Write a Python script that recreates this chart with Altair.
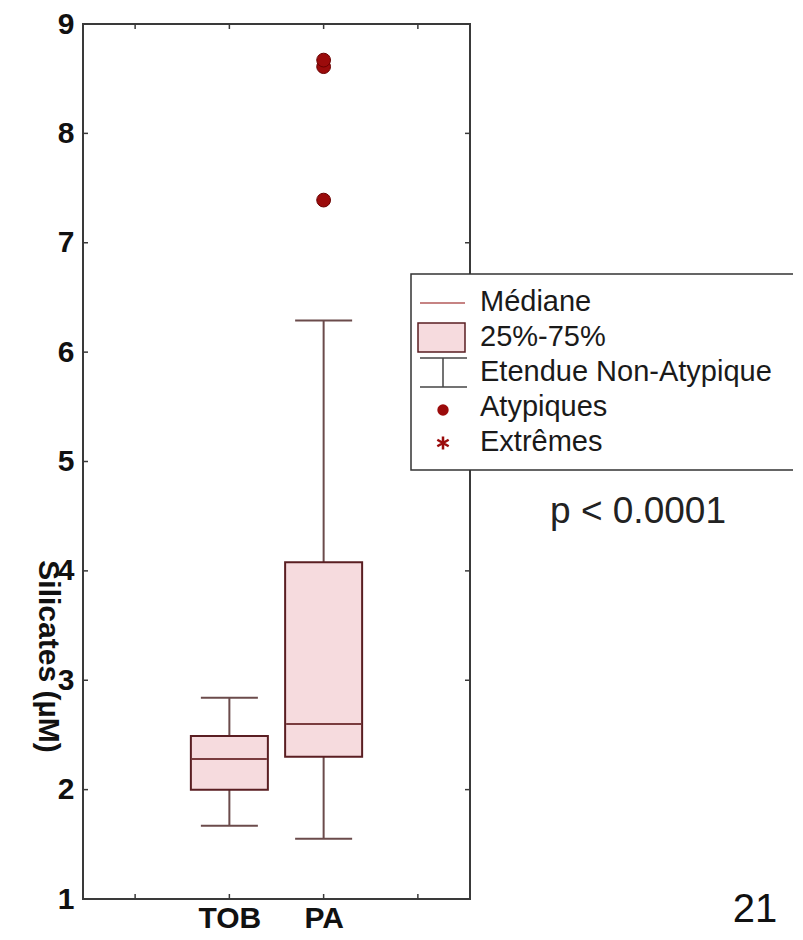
import altair as alt
import pandas as pd

# ---- data ----
groups = ["TOB", "PA"]
group_pos = [1, 2]
whisker_low = [1.67, 1.55]
q1 = [2.00, 2.30]
median = [2.28, 2.60]
q3 = [2.49, 4.08]
whisker_high = [2.84, 6.29]
outlier_pos = [2, 2, 2]
outlier_values = [8.61, 8.67, 7.39]
y_ticks = [1, 2, 3, 4, 5, 6, 7, 8, 9]
x_ticks = [0, 1, 2, 3]
legend_labels = ["Médiane", "25%-75%", "Etendue Non-Atypique", "Atypiques", "Extrêmes"]
p_label = "p < 0.0001"
page_label = "21"
y_title = "Silicates (µM)"

FONT = "Liberation Sans"
W, H = 387, 875
FRAME = "#3a3a3a"
BOXFILL = "#f6dbde"
BOXSTROKE = "#5a1e22"
WHISK = "#6b4b4b"
MED = "#7a3c3e"
DOT = "#9b0b0b"
DOTSTROKE = "#6a0000"

box_df = pd.DataFrame({"group": groups, "pos": group_pos, "wlo": whisker_low,
                       "q1": q1, "med": median, "q3": q3, "whi": whisker_high})
out_df = pd.DataFrame({"pos": outlier_pos, "value": outlier_values})
ytick_df = pd.DataFrame({"v": y_ticks})
xtick_df = pd.DataFrame({"v": x_ticks})
one = pd.DataFrame({"k": [0]})

xscale = alt.Scale(domain=[-0.5, 3.5], nice=False, zero=False)
yscale = alt.Scale(domain=[1, 9], nice=False, zero=False)

label_expr = " : ".join(f"datum.value == {p} ? '{g}'" for p, g in zip(group_pos, groups)) + " : ''"

xaxis = alt.Axis(values=group_pos, labelExpr=label_expr, title=None, grid=False, ticks=False,
                 domain=False, labelFont=FONT, labelFontSize=30, labelFontWeight="bold",
                 labelColor="#111111", labelPadding=4, labelFlush=False)
yaxis = alt.Axis(values=y_ticks, format="d", title=y_title, titleAngle=90, titleX=-36, titleY=632,
                 titleAlign="center", titleBaseline="middle", titleFont=FONT, titleFontSize=30,
                 titleFontWeight="bold", titleColor="#111111", grid=False, ticks=False, domain=False,
                 labelFont=FONT, labelFontSize=30, labelFontWeight="bold", labelColor="#111111",
                 labelPadding=9, labelFlush=False)


def X(f):
    return alt.X(f, scale=xscale, axis=xaxis)


def Y(f):
    return alt.Y(f, scale=yscale, axis=yaxis)


layers = []

# frame
layers.append(alt.Chart(one).mark_rect(fillOpacity=0, stroke=FRAME, strokeWidth=2).encode(
    x=alt.value(0), x2=alt.value(W), y=alt.value(0), y2=alt.value(H)))

# whiskers
layers.append(alt.Chart(box_df).mark_rule(color=WHISK, strokeWidth=2).encode(
    x=X("pos:Q"), y=Y("wlo:Q"), y2="q1:Q"))
layers.append(alt.Chart(box_df).mark_rule(color=WHISK, strokeWidth=2).encode(
    x=X("pos:Q"), y=Y("q3:Q"), y2="whi:Q"))
for f in ["wlo", "whi"]:
    layers.append(alt.Chart(box_df).mark_tick(orient="horizontal", size=57, thickness=2,
                                              color=WHISK, opacity=1).encode(
        x=X("pos:Q"), y=Y(f"{f}:Q")))

# boxes
layers.append(alt.Chart(box_df).mark_bar(size=77, fill=BOXFILL, stroke=BOXSTROKE,
                                         strokeWidth=2).encode(
    x=X("pos:Q"), y=Y("q1:Q"), y2="q3:Q"))
# medians
layers.append(alt.Chart(box_df).mark_tick(orient="horizontal", size=75, thickness=2,
                                          color=MED, opacity=1).encode(
    x=X("pos:Q"), y=Y("med:Q")))
# outliers
layers.append(alt.Chart(out_df).mark_point(filled=True, size=190, fill=DOT, stroke=DOTSTROKE,
                                           strokeWidth=1, opacity=1).encode(
    x=X("pos:Q"), y=Y("value:Q")))

# inward ticks on all four sides
layers.append(alt.Chart(ytick_df).mark_rule(color=FRAME, strokeWidth=1.5).encode(
    y=Y("v:Q"), x=alt.value(0), x2=alt.value(5)))
layers.append(alt.Chart(ytick_df).mark_rule(color=FRAME, strokeWidth=1.5).encode(
    y=Y("v:Q"), x=alt.value(W - 5), x2=alt.value(W)))
layers.append(alt.Chart(xtick_df).mark_rule(color=FRAME, strokeWidth=1.5).encode(
    x=X("v:Q"), y=alt.value(0), y2=alt.value(5)))
layers.append(alt.Chart(xtick_df).mark_rule(color=FRAME, strokeWidth=1.5).encode(
    x=X("v:Q"), y=alt.value(H - 5), y2=alt.value(H)))

# legend box
layers.append(alt.Chart(one).mark_rect(fill="white", stroke="#333333", strokeWidth=1.5).encode(
    x=alt.value(328), x2=alt.value(760), y=alt.value(250), y2=alt.value(446)))
# legend symbols
layers.append(alt.Chart(one).mark_rule(color="#b35a5a", strokeWidth=1.5).encode(
    x=alt.value(337), x2=alt.value(382), y=alt.value(279)))
layers.append(alt.Chart(one).mark_rect(fill=BOXFILL, stroke=BOXSTROKE, strokeWidth=1.5).encode(
    x=alt.value(335), x2=alt.value(382), y=alt.value(299), y2=alt.value(328)))
for yy in [334, 363]:
    layers.append(alt.Chart(one).mark_rule(color="#444444", strokeWidth=1.5).encode(
        x=alt.value(337), x2=alt.value(384), y=alt.value(yy)))
layers.append(alt.Chart(one).mark_rule(color="#444444", strokeWidth=1.5).encode(
    x=alt.value(360), y=alt.value(334), y2=alt.value(363)))
layers.append(alt.Chart(one).mark_point(filled=True, size=130, fill=DOT, opacity=1).encode(
    x=alt.value(360), y=alt.value(386)))
layers.append(alt.Chart(one).mark_point(
    shape="M0,-1L0,1M-0.87,-0.5L0.87,0.5M-0.87,0.5L0.87,-0.5",
    filled=False, color=DOT, strokeWidth=2.5, size=170, opacity=1).encode(
    x=alt.value(360), y=alt.value(419)))
# legend labels
for i, lab in enumerate(legend_labels):
    layers.append(alt.Chart(one).mark_text(text=lab, align="left", baseline="middle",
                                           font=FONT, fontSize=29, color="#1a1a1a").encode(
        x=alt.value(397), y=alt.value(278 + 35 * i)))

# annotations
layers.append(alt.Chart(one).mark_text(text=p_label, align="center", baseline="middle",
                                       font=FONT, fontSize=37, color="#222222").encode(
    x=alt.value(555), y=alt.value(488)))
layers.append(alt.Chart(one).mark_text(text=page_label, align="center", baseline="middle",
                                       font=FONT, fontSize=40, color="#111111").encode(
    x=alt.value(672), y=alt.value(886)))

chart = alt.layer(*layers).properties(
    width=W, height=H,
    autosize=alt.AutoSizeParams(type="none"),
    padding={"left": 75, "top": 16, "right": 323, "bottom": 33},
).configure_view(strokeWidth=0).configure(font=FONT)

chart.save("out.html", embed_options={"renderer": "svg", "actions": False})
